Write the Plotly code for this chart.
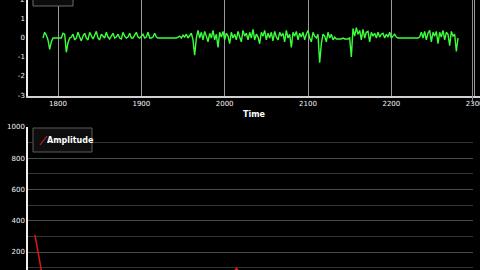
import numpy as np
import plotly.graph_objects as go

# ---- data ----
signal_start = 1782
signal_step = 2
signal_values = [
    0.0, 0.3, 0.15, -0.1, -0.6, -0.2, 0.0,
    0.0, 0.0, 0.02, 0.0, 0.0,
    0.25, 0.2, -0.75, -0.25, 0.0,
    0.05, 0.2, -0.1, 0.0, 0.3, 0.05,
    -0.15, 0.1, 0.25, 0.0, -0.1, 0.3,
    0.1, -0.05, 0.15, 0.35, 0.0, -0.1,
    0.2, 0.1, 0.0, 0.3, 0.05, -0.05,
    0.1, 0.25, 0.0, 0.05, 0.2, 0.0,
    -0.05, 0.3, 0.1, 0.0, 0.05, 0.25,
    0.0, 0.0, 0.15, 0.3, 0.05, 0.0,
    0.1, 0.2, 0.0, 0.05, 0.3, 0.0,
    0.0, 0.05, 0.25, 0.05, 0.0, 0.0,
    0.0, 0.0, 0.0, 0.0, 0.0, 0.0, 0.0, 0.02, 0.0, 0.0,
    0.05, 0.1, 0.0, 0.15, 0.05, 0.2, 0.0, 0.1, 0.25, -0.1,
    -0.9, 0.0,
    0.4, 0.0, 0.3, -0.1, 0.35, 0.1, -0.2, 0.25,
    0.0, 0.4, -0.1, 0.2, -0.5, 0.3, 0.05, 0.35,
    -0.1, 0.25, 0.1, -0.3, 0.3, 0.0, 0.2, -0.1,
    0.35, 0.05, -0.2, 0.4, 0.1, 0.25, -0.1, 0.3,
    0.0, 0.45, -0.1, 0.2, 0.05, -0.3, 0.3, 0.1,
    0.4, -0.1, 0.25, 0.0, 0.3, -0.15, 0.35, 0.05,
    -0.1, 0.3, 0.1, 0.25, -0.2, 0.4, 0.0, 0.2,
    -0.5, 0.3, 0.1, 0.35, -0.1, 0.25, 0.05, 0.3,
    -0.1, 0.2, 0.4, 0.0, -0.2, 0.3, 0.1, 0.0,
    0.2,
    -1.3, -0.3, 0.2,
    0.1, -0.2, 0.3, 0.0, 0.2, -0.1, 0.05,
    -0.05, -0.05, -0.05, -0.05, 0.0, -0.05, -0.05, -0.05, 0.0,
    -1.0,
    0.5, 0.1, 0.55, 0.2, 0.4, -0.1, 0.45, 0.0, 0.3, 0.35,
    -0.2, 0.3, 0.1, 0.25, 0.0, 0.3, 0.05, 0.2, 0.25, 0.0,
    0.2, 0.05, 0.3, 0.0, 0.1, 0.2, 0.05, 0.0, 0.0,
    0.0, 0.0, 0.02, 0.0, 0.0, 0.0, 0.0, 0.0, 0.02, 0.0, 0.0, 0.05,
    0.3, 0.0, 0.35, -0.1, 0.25, 0.4, -0.2, 0.3, 0.1, 0.35, -0.3, 0.3,
    0.05, 0.4, -0.1, 0.3, 0.2, -0.4, 0.35, 0.1, 0.2, -0.7, 0.0,
]
signal_time = [signal_start + signal_step * i for i in range(len(signal_values))]

time_ticks = [1800, 1900, 2000, 2100, 2200, 2300]
signal_ticks = [-3, -2, -1, 0, 1, 2]
signal_tick_text = ["-3", "-2", "-1", "0", "1", "2"]

amp_bins = 128
amplitude = [
    310, 62, 45, 38, 30, 26, 22, 25, 18, 20,
    15, 17, 14, 16, 12, 13, 15, 11, 12, 14,
    10, 12, 11, 13, 15, 18, 22, 30, 45, 95,
    40, 25, 18, 14, 12, 10, 11, 9, 10, 8,
    9, 10, 8, 7, 9, 8, 7, 8, 6, 7,
    8, 6, 7, 6, 5, 6, 7, 5, 6, 5,
    6, 5, 4, 5,
]
frequency = [(k + 1) / amp_bins for k in range(len(amplitude))]
amp_ticks = [200, 400, 600, 800, 1000]

W, H = 480, 270
def px(x):
    return x / W
def py(y):
    return 1 - y / H

fig = go.Figure()
fig.add_trace(go.Scatter(x=signal_time, y=signal_values, mode="lines",
                         line=dict(color="#3cff3c", width=1.4),
                         xaxis="x", yaxis="y", showlegend=False))
fig.add_trace(go.Scatter(x=frequency, y=amplitude, mode="lines",
                         line=dict(color="#e01818", width=1.5),
                         xaxis="x2", yaxis="y2", showlegend=False))

tickfont = dict(family="DejaVu Sans", size=7, color="#f4f4f4")

fig.update_layout(
    width=W, height=H,
    template="none",
    paper_bgcolor="black", plot_bgcolor="black",
    margin=dict(l=0, r=0, t=0, b=0),
    showlegend=False,
    xaxis=dict(domain=[px(28), 1.0], anchor="y",
               range=[1764, 1764 + 452 * 1.2],
               tickvals=time_ticks, ticktext=[str(t) for t in time_ticks],
               tickfont=tickfont, ticks="", automargin=False,
               ticklabeloverflow="allow",
               showgrid=True, gridcolor="#9a9a9a", gridwidth=1,
               showline=True, linecolor="#d0d0d0", linewidth=1.5,
               zeroline=False,
               title=dict(text="<b>Time</b>", font=dict(family="DejaVu Sans", size=8, color="white"),
                          standoff=4)),
    yaxis=dict(domain=[py(96), 1.0], anchor="x",
               range=[-3.05, 2.0],
               tickvals=signal_ticks, ticktext=signal_tick_text,
               tickfont=tickfont, ticks="", automargin=False,
               ticklabeloverflow="allow",
               showgrid=False, zeroline=False,
               showline=True, linecolor="#f0f0f0", linewidth=1.5),
    xaxis2=dict(domain=[px(28), px(473)], anchor="y2",
                range=[0, 0.5], showticklabels=False, ticks="", automargin=False,
                showgrid=False, zeroline=False, showline=False),
    yaxis2=dict(domain=[0, py(126.5)], anchor="x2",
                range=[85, 1003],
                tickvals=amp_ticks, tickfont=tickfont, ticks="", automargin=False,
                showgrid=True, gridcolor="#4a4a4a", gridwidth=1,
                minor=dict(dtick=100, showgrid=True, gridcolor="#333333", gridwidth=1),
                zeroline=False,
                showline=True, linecolor="#f0f0f0", linewidth=1.5),
)

shapes = [
    # top legend box (cut off at top)
    dict(type="rect", xref="paper", yref="paper",
         x0=px(33), x1=px(73), y0=py(6), y1=py(-10),
         line=dict(color="#6a6a6a", width=1), fillcolor="#0c0c0c", layer="above"),
    # vertical splitter line at right of top chart
    dict(type="line", xref="paper", yref="paper",
         x0=px(472.5), x1=px(472.5), y0=1, y1=py(103),
         line=dict(color="#8a8a8a", width=1)),
    # bottom legend box
    dict(type="rect", xref="paper", yref="paper",
         x0=px(33), x1=px(92), y0=py(152), y1=py(128),
         line=dict(color="#5a5a5a", width=1), fillcolor="#0e0e0e", layer="above"),
    dict(type="line", xref="paper", yref="paper",
         x0=px(40), x1=px(47), y0=py(145), y1=py(136),
         line=dict(color="#d01818", width=1.2), layer="above"),
]
fig.update_layout(shapes=shapes)
fig.add_annotation(xref="paper", yref="paper", x=px(45), y=py(140),
                   xanchor="left", yanchor="middle", showarrow=False,
                   text="<b>Amplitude</b>",
                   font=dict(family="DejaVu Sans", size=8, color="white"))

fig.write_html("out.html")
